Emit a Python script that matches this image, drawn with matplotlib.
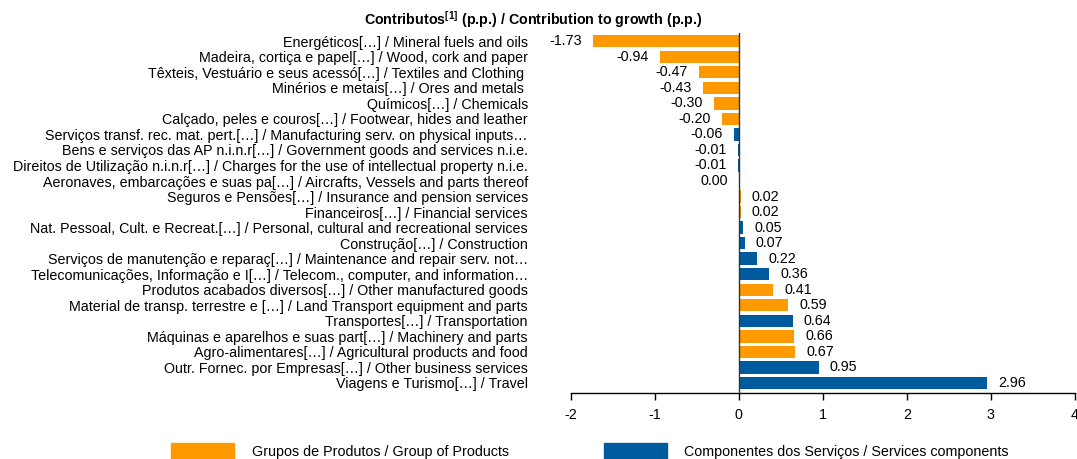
import matplotlib
matplotlib.use("Agg")
import matplotlib.pyplot as plt
from matplotlib.patches import Patch

plt.rcParams["font.family"] = ["Liberation Sans", "DejaVu Sans"]
plt.rcParams["mathtext.fontset"] = "custom"
plt.rcParams["mathtext.rm"] = "Liberation Sans"
plt.rcParams["mathtext.bf"] = "Liberation Sans:bold"

# ---------- Data ----------
categories = [
    "Energéticos[…] / Mineral fuels and oils",
    "Madeira, cortiça e papel[…] / Wood, cork and paper",
    "Têxteis, Vestuário e seus acessó[…] / Textiles and Clothing ",
    "Minérios e metais[…] / Ores and metals ",
    "Químicos[…] / Chemicals",
    "Calçado, peles e couros[…] / Footwear, hides and leather",
    "Serviços transf. rec. mat. pert.[…] / Manufacturing serv. on physical inputs…",
    "Bens e serviços das AP n.i.n.r[…] / Government goods and services n.i.e.",
    "Direitos de Utilização n.i.n.r[…] / Charges for the use of intellectual property n.i.e.",
    "Aeronaves, embarcações e suas pa[…] / Aircrafts, Vessels and parts thereof",
    "Seguros e Pensões[…] / Insurance and pension services",
    "Financeiros[…] / Financial services",
    "Nat. Pessoal, Cult. e Recreat.[…] / Personal, cultural and recreational services",
    "Construção[…] / Construction",
    "Serviços de manutenção e reparaç[…] / Maintenance and repair serv. not…",
    "Telecomunicações, Informação e I[…] / Telecom., computer, and information…",
    "Produtos acabados diversos[…] / Other manufactured goods",
    "Material de transp. terrestre e […] / Land Transport equipment and parts",
    "Transportes[…] / Transportation",
    "Máquinas e aparelhos e suas part[…] / Machinery and parts",
    "Agro-alimentares[…] / Agricultural products and food",
    "Outr. Fornec. por Empresas[…] / Other business services",
    "Viagens e Turismo[…] / Travel",
]
values = [-1.73, -0.94, -0.47, -0.43, -0.30, -0.20, -0.06, -0.01, -0.01, 0.00,
          0.02, 0.02, 0.05, 0.07, 0.22, 0.36, 0.41, 0.59, 0.64, 0.66, 0.67,
          0.95, 2.96]
# G = group of products, S = services components
groups = ["G", "G", "G", "G", "G", "G", "S", "S", "S", "G",
          "G", "G", "S", "S", "S", "S", "G", "G", "S", "G", "G",
          "S", "S"]
legend_labels = {"G": "Grupos de Produtos / Group of Products",
                 "S": "Componentes dos Serviços / Services components"}
x_ticks = [-2, -1, 0, 1, 2, 3, 4]

# ---------- Style ----------
C_ORANGE = "#FF9900"
C_BLUE = "#005A9E"
colors = {"G": C_ORANGE, "S": C_BLUE}
FS = 10.3

fig = plt.figure(figsize=(10.77, 4.59), dpi=100)
ax = fig.add_axes([0.530, 0.1438, 0.468, 0.785])

ypos = list(range(len(categories)))
ax.barh(ypos, values, height=0.8, color=[colors[g] for g in groups], zorder=2)
ax.axvline(0, color="#333333", lw=1.0, zorder=3)

for y, v in zip(ypos, values):
    if v > 0:
        ax.annotate(f"{v:.2f}", (v, y), xytext=(8, 0), textcoords="offset points",
                    ha="left", va="center", fontsize=FS)
    else:
        ax.annotate(f"{v:.2f}", (v, y), xytext=(-8, 0), textcoords="offset points",
                    ha="right", va="center", fontsize=FS)

ax.set_xlim(-2, 4)
ax.set_ylim(len(categories) - 0.35, -0.55)
ax.set_xticks(x_ticks)
ax.set_xticklabels([str(t) for t in x_ticks], fontsize=FS)
ax.set_yticks(ypos)
ax.set_yticklabels(categories, fontsize=FS)
ax.tick_params(axis="y", length=0, pad=31)
ax.tick_params(axis="x", length=5, width=1, pad=6)
for s in ["top", "right", "left"]:
    ax.spines[s].set_visible(False)
ax.spines["bottom"].set_linewidth(1)

fig.text(0.495, 0.958, r"Contributos$^{\mathbf{[1]}}$ (p.p.) / Contribution to growth (p.p.)",
         ha="center", va="center", fontsize=FS, fontweight="bold")

handles = [Patch(color=colors[k]) for k in ["G", "S"]]
fig.legend(handles, [legend_labels["G"], legend_labels["S"]], ncol=2,
           loc="center", bbox_to_anchor=(0.548, 0.017), frameon=False,
           fontsize=FS, handlelength=4.4, handleheight=1.4,
           handletextpad=1.2, columnspacing=6.7, borderpad=0)

fig.savefig("out.png", dpi=100)
